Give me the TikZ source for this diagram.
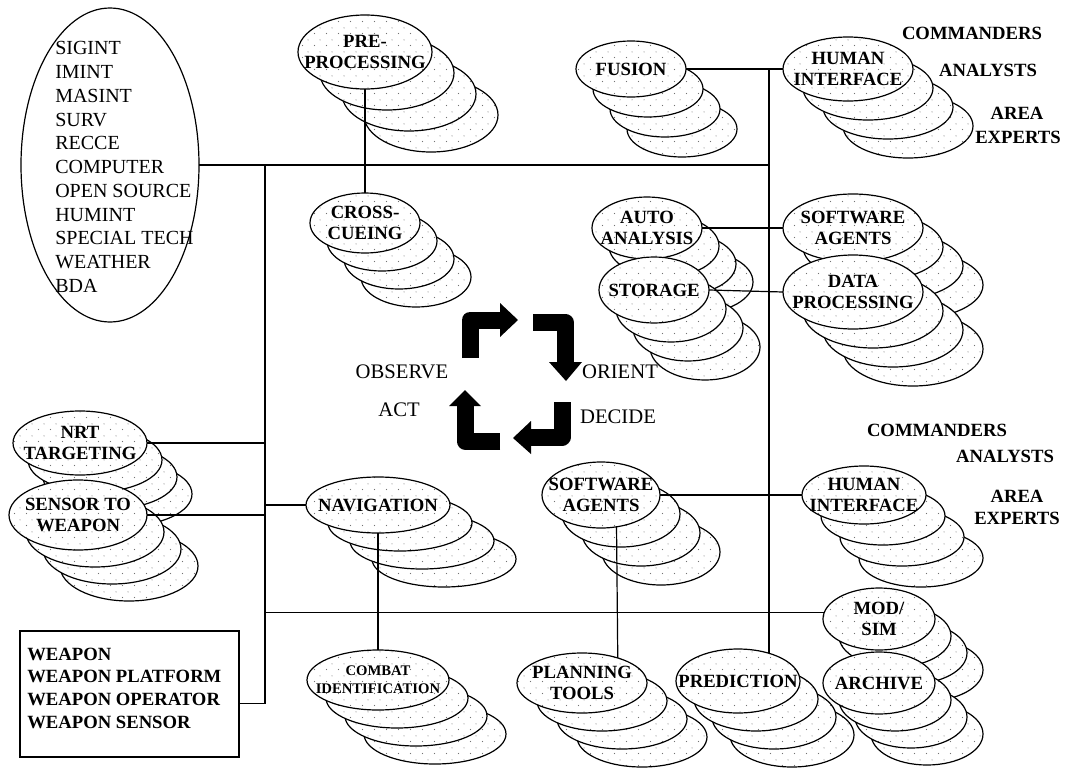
\documentclass[tikz,border=0pt]{standalone}
\usepackage{fontspec}
\setmainfont{Liberation Serif}
\usetikzlibrary{shapes.geometric,patterns.meta}

% light stipple used inside the stacked ellipses
\tikzdeclarepattern{
  name=stipple,
  type=uncolored,
  bounding box={(0pt,0pt) and (9pt,9pt)},
  tile size={(9pt,9pt)},
  code={
    \pgfpathcircle{\pgfpoint{2pt}{2pt}}{0.45pt}
    \pgfpathcircle{\pgfpoint{6.5pt}{6.5pt}}{0.45pt}
    \pgfusepath{fill}
  }
}

% a stack of four ellipses: name, x, y, rx, ry, dx, dy (front one is named)
\newcommand\ellstack[7]{%
  \foreach \k in {3,2,1}{%
    \node[stackell, minimum width={2*#4*0.75pt}, minimum height={2*#5*0.75pt}]
      (#1-\k) at ({#2+\k*#6},{#3+\k*#7}) {};
  }
  \node[stackell, minimum width={2*#4*0.75pt}, minimum height={2*#5*0.75pt}]
    (#1) at (#2,#3) {};
}

\begin{document}
\begin{tikzpicture}[x=0.75pt,y=-0.75pt,
  stackell/.style={ellipse, draw, line width=0.9pt, inner sep=0pt, outer sep=0pt,
    preaction={fill=white}, pattern=stipple, pattern color=black!55},
  lbl/.style={font=\fontsize{14}{16}\selectfont\bfseries, align=center, inner sep=0pt},
  smalllbl/.style={font=\fontsize{11}{13.5}\selectfont\bfseries, align=center, inner sep=0pt},
  txt/.style={font=\fontsize{15.5}{17.8}\selectfont, inner sep=0pt},
  wire/.style={line width=0.9pt},
  cyclebar/.style={line width=12.75pt, line join=round},
]
\path[fill=white, use as bounding box] (0,0) rectangle (1065,768);

% ---- source list ----
\node[draw, ellipse, line width=0.9pt, inner sep=0pt, outer sep=0pt,
  minimum width={178*0.75pt}, minimum height={314*0.75pt}] (src) at (110,165) {};
\node[font=\fontsize{15}{17.8}\selectfont, align=left, anchor=west, inner sep=0pt]
  (srclist) at (55,167)
  {SIGINT\\IMINT\\MASINT\\SURV\\RECCE\\COMPUTER\\OPEN SOURCE\\HUMINT\\SPECIAL TECH\\WEATHER\\BDA};

% ---- weapon box ----
\node[draw, line width=0.9pt, inner sep=0pt, outer sep=0pt,
  minimum width={219*0.75pt}, minimum height={126*0.75pt}] (wbox) at (129.5,694) {};
\node[font=\fontsize{14}{17}\selectfont\bfseries, align=left, anchor=west, inner sep=0pt]
  (wlist) at (27,688) {WEAPON\\WEAPON PLATFORM\\WEAPON OPERATOR\\WEAPON SENSOR};

% ---- ellipse stacks ----
\ellstack{pre}{365}{52}{67}{37}{22}{21}
\ellstack{cross}{365}{223}{55}{30}{17}{18}
\ellstack{fusion}{631}{69}{55}{28}{17}{20}
\ellstack{hitop}{848}{69}{65}{32}{20}{19}
\ellstack{auto}{647}{228}{55}{31}{17}{18}
\ellstack{storage}{654}{290}{55}{33}{17}{19}
\ellstack{swtop}{853}{228}{70}{34}{20}{19}
\ellstack{data}{853}{292}{70}{37}{20}{19}
\ellstack{nrt}{80}{443}{67}{32}{15}{17}
\ellstack{sensor}{78}{515}{69}{35}{17}{17}
\ellstack{nav}{378}{505}{72}{28}{22}{18}
\ellstack{combat}{378}{680}{71}{30}{19}{18}
\ellstack{swb}{601}{495}{59}{33}{20}{19}
\ellstack{hib}{864}{495}{62}{29}{19}{21}
\ellstack{plan}{582}{683}{65}{30}{20}{18}
\ellstack{pred}{738}{681}{62}{32}{18}{18}
\ellstack{modsim}{879}{619}{56}{31}{16}{17}
\ellstack{archive}{879}{683}{56}{31}{16}{17}

% ---- stack labels ----
\node[lbl] (pre-t) at (pre) {PRE-\\PROCESSING};
\node[lbl] (cross-t) at (cross) {CROSS-\\CUEING};
\node[lbl] (fusion-t) at (fusion) {FUSION};
\node[lbl] (hitop-t) at (hitop) {HUMAN\\INTERFACE};
\node[lbl] (auto-t) at (auto) {AUTO\\ANALYSIS};
\node[lbl] (storage-t) at (storage) {STORAGE};
\node[lbl] (swtop-t) at (swtop) {SOFTWARE\\AGENTS};
\node[lbl] (data-t) at (data) {DATA\\PROCESSING};
\node[lbl] (nrt-t) at (nrt) {NRT\\TARGETING};
\node[lbl] (sensor-t) at (sensor) {SENSOR TO\\WEAPON};
\node[lbl] (nav-t) at (nav) {NAVIGATION};
\node[smalllbl] (combat-t) at (combat) {COMBAT\\IDENTIFICATION};
\node[lbl] (swb-t) at (swb) {SOFTWARE\\AGENTS};
\node[lbl] (hib-t) at (hib) {HUMAN\\INTERFACE};
\node[lbl] (plan-t) at (plan) {PLANNING\\TOOLS};
\node[lbl] (pred-t) at (pred) {PREDICTION};
\node[lbl] (modsim-t) at (modsim) {MOD/\\SIM};
\node[lbl] (archive-t) at (archive) {ARCHIVE};

% ---- user groups ----
\node[lbl] (cmd1) at (972,33) {COMMANDERS};
\node[lbl] (ana1) at (988,70) {ANALYSTS};
\node[lbl] (area1) at (1017,113) {AREA};
\node[lbl] (exp1) at (1018,137) {EXPERTS};
\node[lbl] (cmd2) at (937,430) {COMMANDERS};
\node[lbl] (ana2) at (1005,456) {ANALYSTS};
\node[lbl] (area2) at (1017,496) {AREA};
\node[lbl] (exp2) at (1017,518) {EXPERTS};

% ---- connecting lines ----
\coordinate (lbus) at (265,165);
\coordinate (rbus) at (769,69);
\draw[wire] (src.east) -- (src.east -| rbus);
\draw[wire] (fusion.east) -- (hitop.west);
\draw[wire] (rbus) -- (rbus |- pred.41.8);
\draw[wire] (lbus) -- (lbus |- wbox.355.3);
\draw[wire] (wbox.355.3) -- (lbus |- wbox.355.3);
\draw[wire] (pre.south) -- (cross.north);
\draw[wire] (auto.east) -- (swtop.west);
\draw[wire] (storage.east) -- (data.west);
\draw[wire] (nrt.east) -- (nrt.east -| lbus);
\draw[wire] (sensor.east) -- (sensor.east -| lbus);
\draw[wire] (nav.west -| lbus) -- (nav.west);
\draw[wire] (nav.south) -- (combat.north);
\draw[wire] (lbus |- modsim.173.8) -- (modsim.173.8);
\draw[wire] (swb.east) -- (hib.west);
\draw[wire] (swb.296.7) -- (plan.35.9);

% ---- OODA cycle ----
\draw[cyclebar] (470,358) -- (470,320) -- (501,320);
\fill (500,303) -- (518,320) -- (500,337) -- cycle;
\draw[cyclebar] (533,322) -- (565,322) -- (565,363);
\fill (549,362) -- (582,362) -- (566,381) -- cycle;
\draw[cyclebar] (562,402) -- (562,437) -- (530,437);
\fill (531,421) -- (531,454) -- (513,438) -- cycle;
\draw[cyclebar] (500,441) -- (465,441) -- (465,405);
\fill (449,406) -- (481,406) -- (465,390) -- cycle;

\node[txt] (observe) at (402,372) {OBSERVE};
\node[txt] (act) at (399,410) {ACT};
\node[txt] (orient) at (620,372) {ORIENT};
\node[txt] (decide) at (618,417) {DECIDE};
\end{tikzpicture}
\end{document}
